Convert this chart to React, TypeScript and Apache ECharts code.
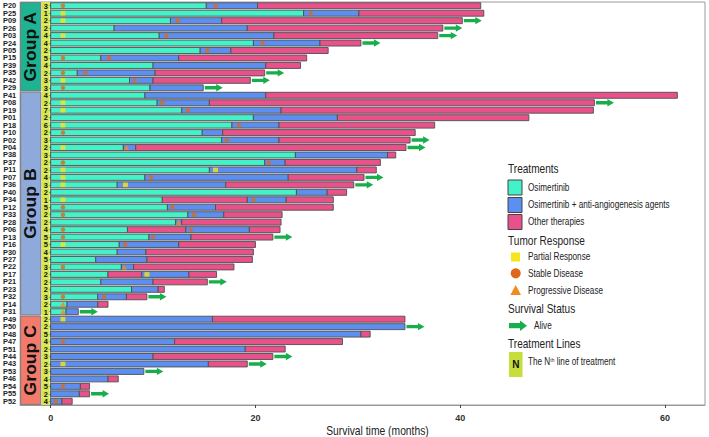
import React, { useEffect, useRef } from "react";
import * as echarts from "echarts";

const patients = [
  "P20", "P25", "P09", "P26", "P03", "P24", "P05", "P15", "P39", "P35", "P42", "P29",
  "P41", "P08", "P19", "P01", "P18", "P10", "P02", "P04", "P38", "P37", "P11", "P07", "P36", "P40",
  "P34", "P12", "P33", "P28", "P06", "P13", "P16", "P30", "P27", "P22", "P17", "P21", "P23", "P32", "P14", "P31",
  "P49", "P50", "P48", "P47", "P51", "P44", "P43", "P53", "P46", "P54", "P55", "P52",
];
const groupNames = ["Group A", "Group B", "Group C"];
const groupSizes = [12, 30, 12];
const lineNumbers = [
  3, 1, 2, 2, 4, 4, 2, 5, 4, 2, 3, 3,
  4, 2, 7, 2, 6, 2, 3, 2, 3, 2, 2, 4, 3, 2, 1, 5, 2, 2, 4, 5, 5, 4, 5, 3, 2, 2, 2, 3, 2, 1,
  2, 2, 5, 4, 2, 3, 2, 3, 4, 5, 2, 4,
];
const treatmentNames = ["Osimertinib", "Osimertinib + anti-angiogenesis agents", "Other therapies"];
// O = Osimertinib, B = Osimertinib + anti-angiogenesis agents, P = Other therapies
const segmentTypes = [
  "OBP", "OBP", "OBP", "OBP", "OBP", "OBP", "OBP", "OBP", "OBP", "OBP", "OBP", "OB",
  "OBP", "OBP", "OBP", "OBP", "OBP", "OBP", "OBP", "OBP", "OBP", "OBP", "OBP", "OBP", "OBP", "OBP",
  "OPBP", "OBP", "OBP", "OBP", "OPBP", "OBP", "OBP", "OBP", "OBP", "OBP", "OPBP", "OBP", "OBP", "OBP", "OBP", "OB",
  "BP", "B", "BP", "BP", "BP", "BP", "BP", "B", "BP", "BP", "BP", "BP",
];
// end time (months) of each successive treatment segment
const segmentEnds = [
  [15.2, 20.2, 42.0], [24.7, 30.1, 42.3], [11.7, 16.7, 40.2], [6.2, 19.2, 38.3], [10.6, 21.8, 37.8],
  [19.8, 26.3, 30.3], [14.6, 17.6, 27.1], [4.9, 12.5, 25.0], [10.0, 21.0, 24.4], [2.6, 10.2, 20.9],
  [7.7, 10.0, 19.5], [9.7, 14.9],
  [9.2, 21.0, 61.2], [10.4, 15.5, 53.1], [12.8, 22.5, 53.0], [19.8, 28.0, 46.7], [17.7, 22.3, 37.5],
  [14.8, 16.8, 35.6], [16.7, 22.3, 35.1], [7.1, 8.3, 34.7], [23.9, 32.9, 33.7], [20.9, 22.9, 32.2],
  [15.5, 29.9, 31.8], [9.2, 23.2, 30.6], [6.5, 17.1, 29.6], [24.0, 27.0, 28.9], [10.9, 19.2, 23.0, 27.6],
  [11.4, 16.1, 27.6], [13.4, 16.9, 22.6], [12.2, 12.8, 22.5], [7.5, 13.2, 19.4, 22.4], [9.6, 13.7, 21.7],
  [6.7, 12.5, 20.0], [6.5, 9.3, 19.8], [4.4, 9.4, 19.7], [6.9, 8.1, 17.9], [5.6, 8.9, 13.5, 16.2],
  [4.9, 10.0, 15.3], [7.9, 10.5, 11.1], [4.6, 7.4, 9.4], [1.6, 4.6, 5.6], [1.5, 2.7],
  [15.8, 34.6], [34.6], [30.3, 31.2], [12.1, 28.5], [19.0, 22.9], [10.0, 21.7], [15.4, 19.2], [9.1],
  [5.6, 6.6], [2.9, 3.8], [2.8, 3.8], [1.1, 2.1],
];
const alivePatients = [
  "P09", "P26", "P03", "P24", "P35", "P42", "P29", "P08", "P02", "P04", "P07", "P36", "P13", "P21",
  "P32", "P31", "P50", "P44", "P43", "P53", "P55",
];
const partialResponse: [string, number][] = [
  ["P25", 1.2], ["P09", 1.2], ["P03", 1.2], ["P42", 1.2], ["P08", 1.2], ["P19", 1.2], ["P18", 1.2],
  ["P04", 1.2], ["P11", 1.2], ["P11", 16.1], ["P07", 1.2], ["P36", 1.2], ["P36", 7.3], ["P34", 1.2],
  ["P16", 1.2], ["P17", 9.4], ["P49", 1.2], ["P43", 1.2],
];
const stableDisease: [string, number][] = [
  ["P20", 1.2], ["P20", 16.1], ["P25", 25.4], ["P09", 12.4], ["P03", 11.3], ["P24", 20.7], ["P05", 15.3],
  ["P15", 1.2], ["P15", 5.7], ["P35", 1.2], ["P35", 3.4], ["P42", 8.2], ["P29", 1.2], ["P08", 10.9],
  ["P19", 13.4], ["P18", 18.4], ["P10", 1.2], ["P02", 17.2], ["P37", 1.2], ["P37", 21.3], ["P07", 9.8],
  ["P34", 19.8], ["P12", 1.2], ["P12", 11.9], ["P33", 1.2], ["P33", 14.0], ["P06", 1.2], ["P06", 13.7],
  ["P13", 1.2], ["P13", 10.0], ["P16", 7.3], ["P22", 1.2], ["P32", 1.2], ["P32", 5.2], ["P47", 1.2],
  ["P54", 1.2], ["P52", 0.5],
];
const progressiveDisease: [string, number][] = [
  ["P04", 7.4], ["P28", 12.5], ["P22", 7.2], ["P14", 1.2], ["P31", 1.2],
];
const xTicks = [0, 20, 40, 60];

const TREAT_COLORS: Record<string, string> = { O: "#43f2c9", B: "#5d8ff0", P: "#e9518b" };
const TYPE_ORDER = ["O", "B", "P"];
const GROUP_COLORS = ["#1db393", "#8eaadb", "#f37b6c"];
const LINE_COLOR = "#d5e64a";
const ARROW_COLOR = "#19ae4c";
const FONT = '"Liberation Sans", Arial, sans-serif';

const X_MIN = -2.98;
const X_MAX = 63.9;
const GROUP_X = [-2.93, -0.96];
const LINE_X = [-0.87, -0.1];

function rowOf(name: string) {
  return patients.indexOf(name);
}

export default function App() {
  const ref = useRef<HTMLDivElement>(null);

  useEffect(() => {
    if (!ref.current) return;
    const chart = echarts.init(ref.current, null, { renderer: "svg" });

    const barData: number[][] = [];
    patients.forEach((_, i) => {
      let start = 0;
      segmentEnds[i].forEach((end, k) => {
        barData.push([i, start, end, TYPE_ORDER.indexOf(segmentTypes[i][k])]);
        start = end;
      });
    });

    const groupData: number[][] = [];
    let r = 0;
    groupSizes.forEach((n, gi) => {
      groupData.push([GROUP_X[0], GROUP_X[1], r, r + n - 1, gi]);
      r += n;
    });

    const lineData = patients.map((_, i) => [LINE_X[0], LINE_X[1], i, lineNumbers[i]]);
    const aliveData = alivePatients.map((p) => {
      const i = rowOf(p);
      const ends = segmentEnds[i];
      return [ends[ends.length - 1], i];
    });

    const arrowPoints = (x0: number, y: number, len: number, bh: number, hh: number, hl: number) => [
      [x0, y - bh], [x0 + len - hl, y - bh], [x0 + len - hl, y - hh], [x0 + len, y],
      [x0 + len - hl, y + hh], [x0 + len - hl, y + bh], [x0, y + bh],
    ];

    const itemText = (x: number, y: number, text: string) => ({
      type: "text", x, y, scaleX: 0.82,
      style: { text, fontSize: 10, fontFamily: FONT, fill: "#222", align: "left", verticalAlign: "middle" },
    });
    const titleText = (x: number, y: number, text: string) => ({
      type: "text", x, y, scaleX: 0.84,
      style: { text, fontSize: 12, fontFamily: FONT, fill: "#222", align: "left", verticalAlign: "middle" },
    });

    const legend: any[] = [
      titleText(508, 168.5, "Treatments"),
      { type: "rect", shape: { x: 508, y: 180, width: 14, height: 15 }, style: { fill: TREAT_COLORS.O, stroke: "#444", lineWidth: 1 } },
      itemText(528, 187.5, treatmentNames[0]),
      { type: "rect", shape: { x: 508, y: 197.5, width: 14, height: 15 }, style: { fill: TREAT_COLORS.B, stroke: "#444", lineWidth: 1 } },
      itemText(528, 205, treatmentNames[1]),
      { type: "rect", shape: { x: 508, y: 214.5, width: 14, height: 15 }, style: { fill: TREAT_COLORS.P, stroke: "#444", lineWidth: 1 } },
      itemText(528, 222, treatmentNames[2]),
      titleText(508, 241, "Tumor Response"),
      { type: "rect", shape: { x: 511, y: 252.5, width: 9, height: 9 }, style: { fill: "#f6e51c" } },
      itemText(528, 257, "Partial Response"),
      { type: "circle", shape: { cx: 515.7, cy: 273.3, r: 5 }, style: { fill: "#e0661c" } },
      itemText(528, 273.5, "Stable Disease"),
      { type: "polygon", shape: { points: [[515.7, 285], [521, 295], [510.4, 295]] }, style: { fill: "#f28b1d" } },
      itemText(528, 291, "Progressive Disease"),
      titleText(508, 308.5, "Survival Status"),
      { type: "polygon", shape: { points: arrowPoints(509, 325.7, 18, 2.6, 5.2, 7) }, style: { fill: ARROW_COLOR } },
      itemText(534, 326, "Alive"),
      titleText(508, 343.5, "Treatment Lines"),
      { type: "rect", shape: { x: 509, y: 352, width: 13.5, height: 25 }, style: { fill: "#c6dd3a" } },
      { type: "text", x: 515.8, y: 364.5, style: { text: "N", fontSize: 10, fontWeight: "bold", fontFamily: FONT, fill: "#111", align: "center", verticalAlign: "middle" } },
      {
        type: "text", x: 528, y: 362, scaleX: 0.82,
        style: {
          text: "The N{sup|th} line of treatment",
          fontSize: 10, fontFamily: FONT, fill: "#222", align: "left", verticalAlign: "middle",
          rich: { sup: { fontSize: 6, fontFamily: FONT, fill: "#222", verticalAlign: "top", lineHeight: 11 } },
        },
      },
      {
        type: "text", x: 377.5, y: 431, scaleX: 0.86,
        style: { text: "Survival time (months)", fontSize: 12, fontFamily: FONT, fill: "#222", align: "center", verticalAlign: "middle" },
      },
    ];

    chart.setOption({
      animation: false,
      backgroundColor: "#ffffff",
      grid: { left: 20, right: 4, top: 2, bottom: 32, show: true, borderColor: "#9a9a9a", borderWidth: 1, containLabel: false },
      xAxis: {
        type: "value", min: X_MIN, max: X_MAX,
        splitLine: { show: false },
        axisLine: { show: true, onZero: false, lineStyle: { color: "#9a9a9a" } },
        axisTick: { show: true, length: 3, customValues: xTicks, lineStyle: { color: "#444" } },
        axisLabel: { customValues: xTicks, fontSize: 9, fontWeight: "bold", fontFamily: FONT, color: "#333", margin: 8 },
      },
      yAxis: {
        type: "category", data: patients, inverse: true,
        axisLine: { show: true, lineStyle: { color: "#9a9a9a" } },
        axisTick: { show: true, length: 3, alignWithLabel: true, interval: 0, lineStyle: { color: "#333" } },
        axisLabel: { interval: 0, fontSize: 7.4, lineHeight: 7, fontWeight: "bold", fontFamily: FONT, color: "#222", margin: 4 },
        splitLine: { show: false },
      },
      graphic: { elements: legend },
      series: [
        {
          type: "custom", name: "groups", z: 2, data: groupData,
          encode: { x: [0, 1], y: [2, 3] },
          renderItem: (params: any, api: any) => {
            const band = api.size([0, 1])[1];
            const p0 = api.coord([api.value(0), api.value(2)]);
            const p1 = api.coord([api.value(1), api.value(3)]);
            const gi = api.value(4);
            const y0 = p0[1] - band / 2 + 0.6;
            const y1 = p1[1] + band / 2 - 0.6;
            return {
              type: "group",
              children: [
                { type: "rect", shape: { x: p0[0], y: y0, width: p1[0] - p0[0], height: y1 - y0 }, style: { fill: GROUP_COLORS[gi], stroke: "#7a7a7a", lineWidth: 1 } },
                {
                  type: "text", x: (p0[0] + p1[0]) / 2 + 0.5, y: (y0 + y1) / 2, rotation: Math.PI / 2, scaleX: 1.1,
                  style: { text: groupNames[gi], fontSize: 16, fontWeight: "bold", fontFamily: FONT, fill: "#111", align: "center", verticalAlign: "middle" },
                },
              ],
            };
          },
        },
        {
          type: "custom", name: "lines", z: 2, data: lineData,
          encode: { x: [0, 1], y: 2 },
          renderItem: (params: any, api: any) => {
            const band = api.size([0, 1])[1];
            const p0 = api.coord([api.value(0), api.value(2)]);
            const p1 = api.coord([api.value(1), api.value(2)]);
            return {
              type: "group",
              children: [
                { type: "rect", shape: { x: p0[0], y: p0[1] - band / 2, width: p1[0] - p0[0], height: band }, style: { fill: LINE_COLOR } },
                {
                  type: "text", x: (p0[0] + p1[0]) / 2, y: p0[1] + 0.3,
                  style: { text: String(api.value(3)), fontSize: 7.4, lineHeight: 7, fontWeight: "bold", fontFamily: FONT, fill: "#111", align: "center", verticalAlign: "middle" },
                },
              ],
            };
          },
        },
        {
          type: "custom", name: "treatments", z: 3, data: barData,
          encode: { x: [1, 2], y: 0 },
          renderItem: (params: any, api: any) => {
            const band = api.size([0, 1])[1];
            const h = band * 0.8;
            const p0 = api.coord([api.value(1), api.value(0)]);
            const p1 = api.coord([api.value(2), api.value(0)]);
            return {
              type: "rect",
              shape: { x: p0[0], y: p0[1] - h / 2, width: p1[0] - p0[0], height: h },
              style: { fill: TREAT_COLORS[TYPE_ORDER[api.value(3)]], stroke: "#4f4f4f", lineWidth: 0.9 },
            };
          },
        },
        {
          type: "custom", name: "Alive", z: 4, data: aliveData,
          encode: { x: 0, y: 1 },
          renderItem: (params: any, api: any) => {
            const p = api.coord([api.value(0), api.value(1)]);
            return { type: "polygon", shape: { points: arrowPoints(p[0] + 1.5, p[1], 18, 1.7, 3.7, 6.5) }, style: { fill: ARROW_COLOR } };
          },
        },
        {
          type: "scatter", name: "Partial Response", z: 5, symbol: "rect", symbolSize: [5, 4.5],
          itemStyle: { color: "#f6e51c" },
          data: partialResponse.map(([p, t]) => [t, rowOf(p)]),
        },
        {
          type: "scatter", name: "Stable Disease", z: 5, symbol: "circle", symbolSize: 4.5,
          itemStyle: { color: "#e0661c" },
          data: stableDisease.map(([p, t]) => [t, rowOf(p)]),
        },
        {
          type: "scatter", name: "Progressive Disease", z: 5, symbol: "triangle", symbolSize: 5.5,
          itemStyle: { color: "#f28b1d" },
          data: progressiveDisease.map(([p, t]) => [t, rowOf(p)]),
        },
      ],
    });

    return () => chart.dispose();
  }, []);

  return <div ref={ref} style={{ width: 709, height: 437, position: "absolute", left: 0, top: 0 }} />;
}
